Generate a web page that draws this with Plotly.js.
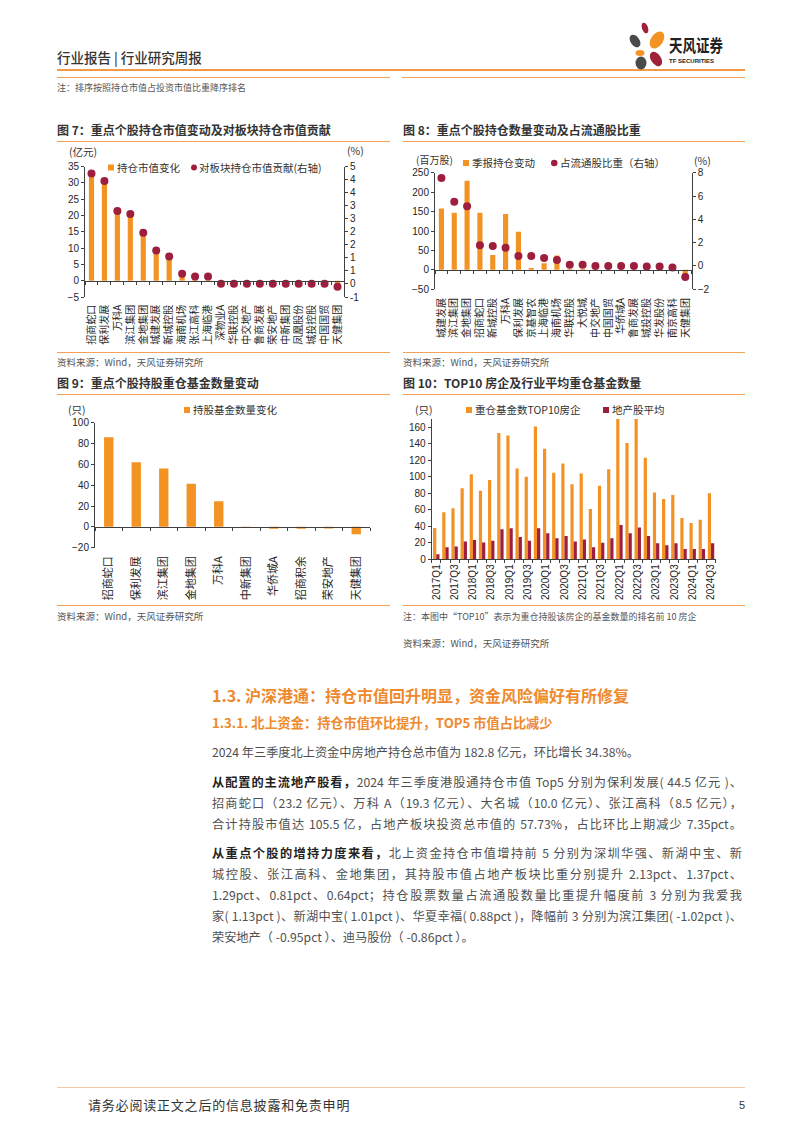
<!DOCTYPE html>
<html>
<head>
<meta charset="utf-8">
<script src="https://cdn.plot.ly/plotly-3.0.1.min.js"></script>
<style>
  body { margin: 0; background: #fff; }
  #page { position: relative; width: 802px; height: 1133px; overflow: hidden; background: #fff;
          font-family: 'Noto Sans CJK SC', sans-serif; color: #333; }
  #plot { position: absolute; left: 0; top: 0; width: 802px; height: 1133px; }
  .t { position: absolute; white-space: nowrap; }
  .ln { position: absolute; height: 1px; background: #F4A25A; }
  .ttl { font-size: 12px; font-weight: bold; color: #333; line-height: 14px; }
  .src { font-size: 9.5px; color: #555; line-height: 12px; }
  .body { position: absolute; left: 212px; width: 530px; font-size: 12.2px; line-height: 20px; color: #505050; white-space: nowrap; }
  .j { text-align: justify; text-align-last: justify; }
  .body b { color: #222; }
  .h1 { font-size: 16px; font-weight: bold; color: #EE8A2D; line-height: 20px; }
  .h2 { font-size: 13.2px; font-weight: bold; color: #EE8A2D; line-height: 18px; }
</style>
</head>
<body>
<div id="page">
  <div id="plot"></div>

  <!-- header -->
  <div class="t" style="left:57px;top:48px;font-size:13.5px;font-weight:500;color:#333;line-height:18px;">行业报告 | 行业研究周报</div>
  <div class="ln" style="left:57px;top:69px;width:688px;height:2px;background:#F29A4A;"></div>
  <svg width="802" height="80" style="position:absolute;left:0;top:0">
    <ellipse cx="645" cy="28" rx="3" ry="5.5" fill="#A0203A" transform="rotate(-20 645 28)"/>
    <ellipse cx="657" cy="40" rx="6" ry="9.5" fill="#F39323" transform="rotate(35 657 40)"/>
    <ellipse cx="635" cy="41" rx="4.5" ry="7" fill="#4a4a4a" transform="rotate(-35 635 41)"/>
    <ellipse cx="640" cy="53" rx="4.5" ry="3" fill="#F39323"/>
    <ellipse cx="656" cy="59" rx="5" ry="8" fill="#A0203A" transform="rotate(-35 656 59)"/>
    <ellipse cx="641" cy="63" rx="5.5" ry="6.5" fill="#4a4a4a"/>
    <text transform="translate(669,52) scale(1,1.3)" font-size="13.5" font-weight="bold" fill="#222" font-family="Noto Sans CJK SC">天风证券</text>
    <text x="669" y="62.5" font-size="6" font-weight="bold" fill="#222" font-family="Liberation Sans">TF SECURITIES</text>
  </svg>
  <div class="ln" style="left:57px;top:77px;width:333px;"></div>
  <div class="ln" style="left:402px;top:77px;width:343px;"></div>
  <div class="t" style="left:57px;top:82px;font-size:9px;color:#555;line-height:12px;">注：排序按照持仓市值占投资市值比重降序排名</div>

  <!-- chart titles / rules / sources -->
  <div class="t ttl" style="left:57px;top:123px;">图 7：重点个股持仓市值变动及对板块持仓市值贡献</div>
  <div class="t ttl" style="left:403px;top:123px;">图 8：重点个股持仓数量变动及占流通股比重</div>
  <div class="ln" style="left:57px;top:141px;width:333px;"></div>
  <div class="ln" style="left:403px;top:141px;width:342px;"></div>
  <div class="ln" style="left:57px;top:352px;width:333px;"></div>
  <div class="ln" style="left:403px;top:352px;width:342px;"></div>
  <div class="t src" style="left:57px;top:356px;">资料来源：Wind，天风证券研究所</div>
  <div class="t src" style="left:403px;top:356px;">资料来源：Wind，天风证券研究所</div>

  <div class="t ttl" style="left:57px;top:376px;">图 9：重点个股持股重仓基金数量变动</div>
  <div class="t ttl" style="left:403px;top:376px;">图 10：TOP10 房企及行业平均重仓基金数量</div>
  <div class="ln" style="left:57px;top:394px;width:333px;"></div>
  <div class="ln" style="left:403px;top:394px;width:342px;"></div>
  <div class="ln" style="left:57px;top:605px;width:333px;"></div>
  <div class="ln" style="left:403px;top:605px;width:342px;"></div>
  <div class="t src" style="left:57px;top:610px;">资料来源：Wind，天风证券研究所</div>
  <div class="t" style="left:403px;top:611px;font-size:9px;color:#555;line-height:12px;">注：本图中“TOP10”表示为重仓持股该房企的基金数量的排名前 10 房企</div>
  <div class="t src" style="left:403px;top:637px;">资料来源：Wind，天风证券研究所</div>

  <!-- body text -->
  <div class="t h1" style="left:212px;top:685px;">1.3. 沪深港通：持仓市值回升明显，资金风险偏好有所修复</div>
  <div class="t h2" style="left:212px;top:714px;">1.3.1. 北上资金：持仓市值环比提升，TOP5 市值占比减少</div>

  <div class="body" style="top:742px;">2024 年三季度北上资金中房地产持仓总市值为 182.8 亿元，环比增长 34.38%。</div>

  <div class="body j" style="top:772px;"><b>从配置的主流地产股看，</b>2024 年三季度港股通持仓市值 Top5 分别为保利发展( 44.5 亿元 )、</div>
  <div class="body j" style="top:793px;">招商蛇口（23.2 亿元）、万科 A（19.3 亿元）、大名城（10.0 亿元）、张江高科（8.5 亿元），</div>
  <div class="body j" style="top:814px;">合计持股市值达 105.5 亿，占地产板块投资总市值的 57.73%，占比环比上期减少 7.35pct。</div>

  <div class="body j" style="top:843px;"><b>从重点个股的增持力度来看，</b>北上资金持仓市值增持前 5 分别为深圳华强、新湖中宝、新</div>
  <div class="body j" style="top:864px;">城控股、张江高科、金地集团，其持股市值占地产板块比重分别提升 2.13pct、1.37pct、</div>
  <div class="body j" style="top:885px;">1.29pct、0.81pct、0.64pct；持仓股票数量占流通股数量比重提升幅度前 3 分别为我爱我</div>
  <div class="body j" style="top:906px;">家( 1.13pct )、新湖中宝( 1.01pct )、华夏幸福( 0.88pct )，降幅前 3 分别为滨江集团( -1.02pct )、</div>
  <div class="body" style="top:927px;">荣安地产（ -0.95pct ）、迪马股份（ -0.86pct ）。</div>

  <!-- footer -->
  <div class="ln" style="left:57px;top:1087px;width:688px;background:#F7C8A0;"></div>
  <div class="t" style="left:88px;top:1096px;font-size:13px;letter-spacing:0.8px;color:#333;line-height:18px;">请务必阅读正文之后的信息披露和免责申明</div>
  <div class="t" style="left:739px;top:1097px;font-size:11px;color:#333;line-height:16px;font-family:'Liberation Sans';">5</div>
</div>

<script>
// ---- data ----
// fig 7
var stocks7 = ["招商蛇口", "保利发展", "万科A", "滨江集团", "金地集团", "城建发展", "新城控股", "海南机场", "张江高科", "上海临港",
  "深物业A", "华联控股", "中交地产", "鲁商发展", "荣安地产", "中新集团", "凤凰股份", "城投控股", "中国国贸", "天健集团"];
var valueChange7 = [32.5, 30, 21, 20.2, 14.5, 9, 7, 1.6, 0.4, 0.4, 0, 0, 0, 0, 0, 0, 0, 0, 0, -2.5];
var contribution7 = [4.70, 4.37, 3.06, 2.93, 2.10, 1.33, 1.06, 0.31, 0.19, 0.19,
  -0.13, -0.13, -0.13, -0.13, -0.13, -0.13, -0.13, -0.13, -0.13, -0.26];
var rightTicks7 = [5, 4.4286, 3.8571, 3.2857, 2.7143, 2.1429, 1.5714, 1.0, 0.4286, -0.1429, -0.7143];
var rightTickText7 = ["5", "4", "4", "3", "3", "2", "2", "1", "1", "0", "-1"];

// fig 8
var stocks8 = ["城建发展", "滨江集团", "金地集团", "招商蛇口", "新城控股", "万科A", "保利发展", "京基智农", "上海临港", "海南机场",
  "华联控股", "大悦城", "中交地产", "中国国贸", "华侨城A", "鲁商发展", "城投控股", "华发股份", "南京高科", "天健集团"];
var shareChange8 = [158, 147, 229, 147, 38, 144, 98, 5, 17, 37, 2, 2, 0, 0, 0, 0, 0, 0, -1, -22];
var floatRatio8 = [7.55, 5.5, 5.12, 1.77, 1.72, 1.56, 0.85, 0.85, 0.69, 0.51, 0.1, 0.1, 0, 0, 0, 0, -0.05, -0.05, -0.12, -0.95];

// fig 9
var stocks9 = ["招商蛇口", "保利发展", "滨江集团", "金地集团", "万科A", "中新集团", "华侨城A", "招商积余", "荣安地产", "天健集团"];
var fundChange9 = [86, 62, 56, 41.5, 24.5, -0.6, -1.8, -1.8, -1.6, -7];

// fig 10
var quarters10 = ["2017Q1", "2017Q2", "2017Q3", "2017Q4", "2018Q1", "2018Q2", "2018Q3", "2018Q4",
  "2019Q1", "2019Q2", "2019Q3", "2019Q4", "2020Q1", "2020Q2", "2020Q3", "2020Q4",
  "2021Q1", "2021Q2", "2021Q3", "2021Q4", "2022Q1", "2022Q2", "2022Q3", "2022Q4",
  "2023Q1", "2023Q2", "2023Q3", "2023Q4", "2024Q1", "2024Q2", "2024Q3"];
var quarterLabels10 = ["2017Q1", "", "2017Q3", "", "2018Q1", "", "2018Q3", "",
  "2019Q1", "", "2019Q3", "", "2020Q1", "", "2020Q3", "",
  "2021Q1", "", "2021Q3", "", "2022Q1", "", "2022Q3", "",
  "2023Q1", "", "2023Q3", "", "2024Q1", "", "2024Q3"];
var top10Funds = [38, 57, 62, 86, 103, 83, 96, 153, 150, 110, 100, 161, 134, 105, 116, 91,
  104, 61, 89, 109, 175, 141, 175, 123, 81, 73, 78, 50, 44, 48, 80];
var avgFunds = [6, 14.5, 15.5, 21.5, 23.5, 20.5, 22.5, 36.5, 37.5, 27, 22.5, 37.5, 31.5, 25.5, 28.3, 21.5,
  24, 14.5, 20.2, 25.5, 41.5, 31.5, 38.5, 28.3, 19.4, 17, 19.4, 12.5, 12.5, 12.5, 19.4];

// ---- page geometry helpers (px -> paper) ----
var W = 802, H = 1133;
function X(p) { return p / W; }
function Y(p) { return 1 - p / H; }

var ORANGE = "#F39323", DARKRED = "#9E1F3D", AX = "#404040";
var NUMFONT = { family: "Liberation Sans, Arial, sans-serif", size: 10, color: "#262626" };
var CATFONT = { family: "Noto Sans CJK SC, sans-serif", size: 10, color: "#262626" };

function yAxis(extra) {
  return Object.assign({
    showline: true, linecolor: AX, linewidth: 1, ticks: "outside", ticklen: 3, tickcolor: AX,
    showgrid: false, zeroline: false, tickfont: NUMFONT, fixedrange: true
  }, extra);
}
// every category gets its label (no auto thinning)
function catAxis(cats, extra) {
  return Object.assign({
    type: "category", categoryarray: cats, categoryorder: "array", range: [-0.5, cats.length - 0.5],
    tickmode: "array", tickvals: cats, ticktext: cats,
    showline: true, linecolor: AX, linewidth: 1, ticks: "outside", ticklen: 3, tickcolor: AX,
    tickson: "boundaries", showgrid: false, zeroline: false, tickangle: -90, tickfont: CATFONT, fixedrange: true
  }, extra);
}

var data = [
  { type: "bar", x: stocks7, y: valueChange7, xaxis: "x", yaxis: "y", width: 0.4,
    marker: { color: ORANGE }, name: "持仓市值变化" },
  { type: "scatter", mode: "markers", x: stocks7, y: contribution7, xaxis: "x", yaxis: "y2",
    marker: { color: DARKRED, size: 8 }, cliponaxis: false, name: "对板块持仓市值贡献(右轴)" },

  { type: "bar", x: stocks8, y: shareChange8, xaxis: "x2", yaxis: "y3", width: 0.4,
    marker: { color: ORANGE }, name: "季报持仓变动" },
  { type: "scatter", mode: "markers", x: stocks8, y: floatRatio8, xaxis: "x2", yaxis: "y4",
    marker: { color: DARKRED, size: 8 }, cliponaxis: false, name: "占流通股比重（右轴）" },

  { type: "bar", x: stocks9, y: fundChange9, xaxis: "x3", yaxis: "y5", width: 0.34,
    marker: { color: ORANGE }, name: "持股基金数量变化" },

  { type: "bar", x: quarters10, y: top10Funds, xaxis: "x4", yaxis: "y6",
    marker: { color: ORANGE }, name: "重仓基金数TOP10房企" },
  { type: "bar", x: quarters10, y: avgFunds, xaxis: "x4", yaxis: "y6",
    marker: { color: DARKRED }, name: "地产股平均" }
];

// legends drawn as small swatches + text
var shapes = [
  { type: "rect", xref: "paper", yref: "paper", x0: X(108), x1: X(114), y0: Y(170.5), y1: Y(164.5), fillcolor: ORANGE, line: { width: 0 } },
  { type: "circle", xref: "paper", yref: "paper", x0: X(191), x1: X(197), y0: Y(170.5), y1: Y(164.5), fillcolor: DARKRED, line: { width: 0 } },
  { type: "rect", xref: "paper", yref: "paper", x0: X(463), x1: X(469), y0: Y(166), y1: Y(160), fillcolor: ORANGE, line: { width: 0 } },
  { type: "circle", xref: "paper", yref: "paper", x0: X(551), x1: X(557.5), y0: Y(166.3), y1: Y(159.8), fillcolor: DARKRED, line: { width: 0 } },
  { type: "rect", xref: "paper", yref: "paper", x0: X(184), x1: X(190), y0: Y(413), y1: Y(407), fillcolor: ORANGE, line: { width: 0 } },
  { type: "rect", xref: "paper", yref: "paper", x0: X(466), x1: X(472), y0: Y(413), y1: Y(407), fillcolor: ORANGE, line: { width: 0 } },
  { type: "rect", xref: "paper", yref: "paper", x0: X(603), x1: X(609), y0: Y(413), y1: Y(407), fillcolor: DARKRED, line: { width: 0 } }
];

function note(text, x, y, size) {
  return { text: text, xref: "paper", yref: "paper", x: X(x), y: Y(y), xanchor: "left", yanchor: "middle",
    showarrow: false, font: { family: "Noto Sans CJK SC, sans-serif", size: size || 10.5, color: "#333" } };
}
var annotations = [
  note("(亿元)", 67, 152), note("(%)", 345, 151),
  note("持仓市值变化", 115, 167.5), note("对板块持仓市值贡献(右轴)", 197, 167.5),
  note("(百万股)", 414, 159.5, 10), note("(%)", 692, 160),
  note("季报持仓变动", 470, 163), note("占流通股比重（右轴）", 558, 163),
  note("(只)", 66, 410), note("持股基金数量变化", 191, 410),
  note("(只)", 413, 409), note("重仓基金数TOP10房企", 473, 410), note("地产股平均", 610, 410)
];

var layout = {
  width: W, height: H,
  margin: { l: 0, r: 0, t: 0, b: 0 },
  paper_bgcolor: "rgba(0,0,0,0)", plot_bgcolor: "rgba(0,0,0,0)",
  showlegend: false,
  barmode: "group", bargap: 0.3, bargroupgap: 0,
  font: { family: "Liberation Sans, Noto Sans CJK SC, sans-serif", color: "#262626" },

  // fig 7
  xaxis: catAxis(stocks7, { domain: [X(85), X(344)], anchor: "free", position: Y(280.7), ticklabelstandoff: 19 }),
  yaxis: yAxis({ domain: [Y(297), Y(166.7)], anchor: "x", range: [-5, 35], dtick: 5 }),
  yaxis2: yAxis({ overlaying: "y", side: "right", anchor: "x", range: [-0.7143, 5],
    tickmode: "array", tickvals: rightTicks7, ticktext: rightTickText7 }),

  // fig 8
  xaxis2: catAxis(stocks8, { domain: [X(435), X(691.7)], anchor: "free", position: Y(269.9), ticklabelstandoff: 23 }),
  yaxis3: yAxis({ domain: [Y(289.3), Y(172.7)], anchor: "x2", range: [-50, 250], dtick: 50 }),
  yaxis4: yAxis({ overlaying: "y3", side: "right", anchor: "x2", range: [-2, 8], dtick: 2 }),

  // fig 9
  xaxis3: catAxis(stocks9, { domain: [X(95), X(370)], anchor: "free", position: Y(526.9), ticklabelstandoff: 24,
    tickfont: { family: "Noto Sans CJK SC, sans-serif", size: 11, color: "#262626" } }),
  yaxis5: yAxis({ domain: [Y(547.7), Y(422.7)], anchor: "x3", range: [-20, 100], dtick: 20 }),

  // fig 10
  xaxis4: catAxis(quarters10, { domain: [X(431.7), X(715.6)], anchor: "y6",
    tickvals: quarters10, ticktext: quarterLabels10, tickfont: NUMFONT }),
  yaxis6: yAxis({ domain: [Y(559.3), Y(419)], anchor: "x4", range: [0, 170], dtick: 20 }),

  shapes: shapes,
  annotations: annotations
};

Plotly.newPlot("plot", data, layout, { staticPlot: true, displayModeBar: false });
</script>
</body>
</html>
